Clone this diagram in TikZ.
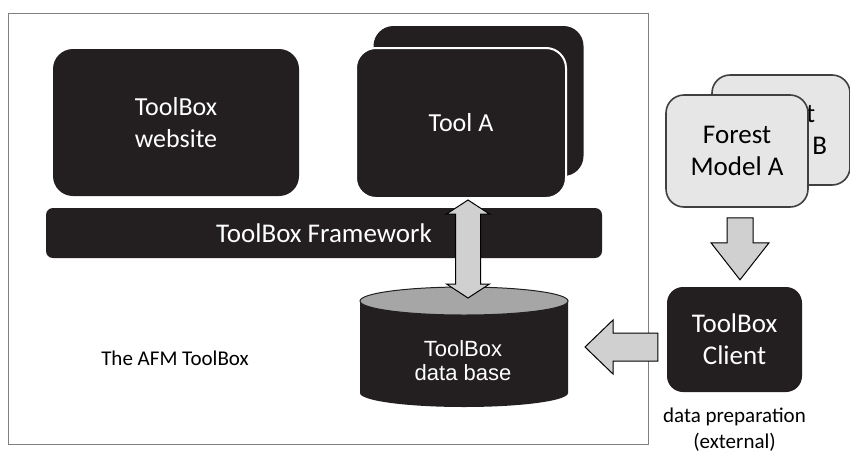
\documentclass[tikz,border=0pt]{standalone}
\usepackage{fontspec}
\setmainfont{Carlito}
\newfontfamily\arialfont{Liberation Sans}
\usetikzlibrary{positioning,calc}
\definecolor{ink}{RGB}{35,31,32}
\definecolor{framegrey}{RGB}{128,128,128}
\definecolor{pale}{RGB}{208,208,208}
\definecolor{mist}{RGB}{230,230,230}
\definecolor{lid}{RGB}{166,166,166}
\definecolor{edge}{RGB}{64,64,64}
\tikzset{
  darkbox/.style={fill=ink,text=white,rounded corners=20pt,align=center,inner sep=0pt,font=\fontsize{26}{32}\selectfont},
  greybox/.style={fill=mist,draw=edge,line width=1.6pt,rounded corners=18pt,align=center,inner sep=0pt,font=\fontsize{27}{32}\selectfont},
  blockarr/.style={fill=pale,draw=black,line width=1pt,line join=miter},
  note/.style={align=center,inner sep=0pt,font=\fontsize{21}{26}\selectfont}
}
\begin{document}
\begin{tikzpicture}[x=1pt,y=-1pt]
  \useasboundingbox (0,0) rectangle (850,453);
  % the AFM ToolBox frame
  \node[draw=framegrey,line width=1pt,minimum width=640,minimum height=431,inner sep=0pt] (afm) at (328,228.5) {};
  \node[note] (afmlabel) at (175,358) {The AFM ToolBox};

  \node[darkbox,minimum width=246,minimum height=147] (website) at (176,122.5) {ToolBox\\website};
  \node[darkbox,minimum width=210,minimum height=150] (toolB) at (478.5,101) {};
  \node[darkbox,draw=white,line width=2pt,minimum width=210,minimum height=150] (toolA) at (461,123) {Tool A};
  \node[darkbox,rounded corners=7pt,minimum width=556,minimum height=50,font=\fontsize{27}{32}\selectfont] (framework) at (324,233) {ToolBox Framework};

  % data base cylinder
  \fill[ink] (360,301) -- (360,393) arc[start angle=180,end angle=0,x radius=104,y radius=14] -- (568,301) -- cycle;
  \filldraw[fill=lid,draw=ink,line width=1pt] (464,301) ellipse[x radius=104,y radius=14];
  \node[align=center,inner sep=0pt,text=white,font=\arialfont\fontsize{22}{24}\selectfont] (db) at (463,361) {ToolBox\\data base};

  % forest models and client
  \node[greybox,minimum width=138,minimum height=110] (forestB) at (781,130) {Forest\\Model B};
  \node[greybox,minimum width=142,minimum height=112] (forestA) at (737,151) {Forest\\Model A};
  \node[darkbox,rounded corners=16pt,minimum width=135,minimum height=105,font=\fontsize{27}{32}\selectfont] (client) at (734.5,339.5) {ToolBox\\Client};
  \node[note,below=16pt of client] (prep) {data preparation\\(external)};

  % block arrows
  \coordinate (dblTop) at ($(toolA.south)+(7,1)$);
  \coordinate (dblBot) at (468,298);
  \draw[blockarr] (dblTop) -- ++(21.5,14) -- ++(-9,0) -- ($(dblBot)+(12.5,-14)$) -- ++(9,0) -- (dblBot)
    -- ++(-21.5,-14) -- ++(9,0) -- ($(dblTop)+(-12.5,14)$) -- ++(-9,0) -- cycle;

  \coordinate (downTail) at ($(forestA.south)+(3,10)$);
  \coordinate (downTip) at ($(client.north)+(5.5,-7)$);
  \draw[blockarr] ($(downTail)+(-13,0)$) -- ($(downTip)+(-13,-37)$) -- ++(-16,0) -- (downTip)
    -- ++(29,-37) -- ++(-16,0) -- ($(downTail)+(13,0)$) -- cycle;

  \coordinate (leftTail) at ($(client.west)+(-9,7.5)$);
  \coordinate (leftTip) at (585,347);
  \draw[blockarr] (leftTip) -- ++(28,-27) -- ++(0,13) -- ($(leftTail)+(0,-14)$) -- ++(0,28)
    -- ($(leftTip)+(28,14)$) -- ++(0,13) -- cycle;
\end{tikzpicture}
\end{document}
